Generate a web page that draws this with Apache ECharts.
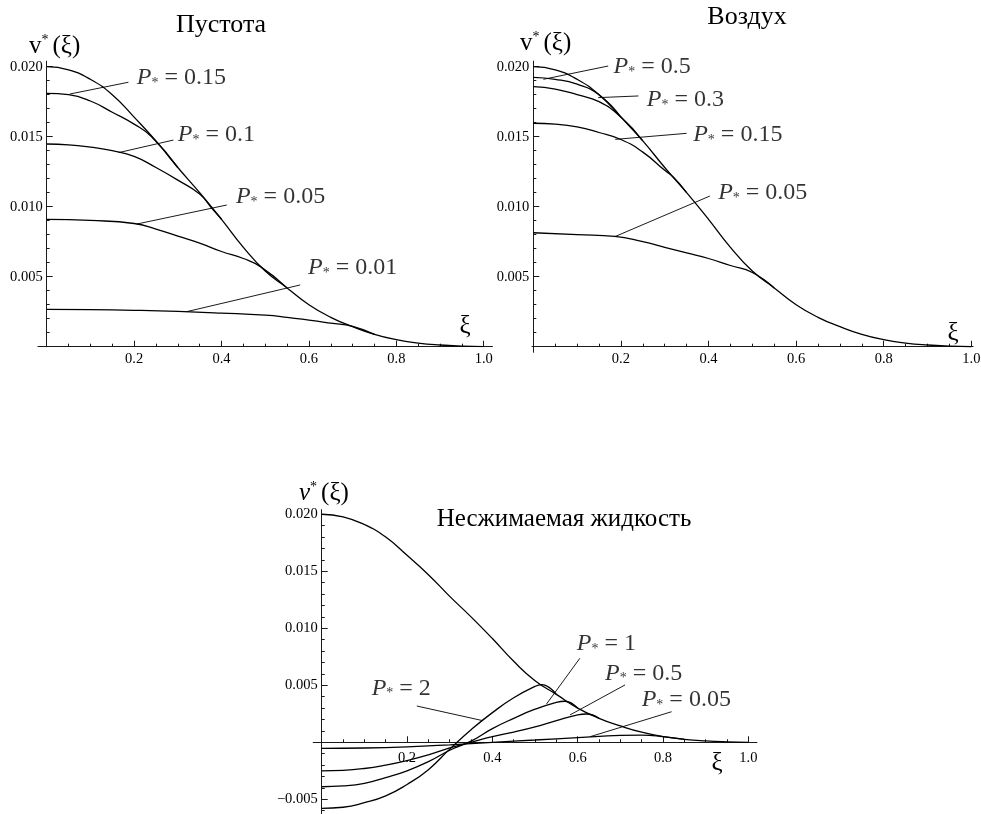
<!DOCTYPE html>
<html><head><meta charset="utf-8">
<script src="https://cdn.jsdelivr.net/npm/echarts@6/dist/echarts.min.js"></script>
<style>html,body{margin:0;padding:0;background:#fff}#c{width:981px;height:814px}</style>
</head><body><div id="c"></div>
<script>
// ---- data (ξ, v*) ----
const envelope = [[0,0.0200],[0.05,0.01978],[0.1,0.0191],[0.15,0.0180],[0.2,0.0164],[0.25,0.0147],[0.3,0.0128],[0.35,0.0110],[0.4,0.0091],[0.45,0.0071],[0.5,0.0054],[0.55,0.0042],[0.6,0.0030],[0.65,0.0021],[0.7,0.00143],[0.75,0.00088],[0.8,0.0005],[0.85,0.00026],[0.9,0.00012],[0.95,0.00004],[1.0,0]];

// Пустота
const void015 = [[0,0.0181],[0.05,0.0180],[0.1,0.01755],[0.15,0.01675],[0.2,0.0159],[0.24,0.0150],[0.3,0.0128]];
const void01  = [[0,0.01448],[0.05,0.01442],[0.1,0.01425],[0.15,0.0140],[0.2,0.0136],[0.25,0.0128],[0.3,0.0119],[0.35,0.0109],[0.375,0.0100],[0.4,0.0091]];
const void005 = [[0,0.0091],[0.1,0.00902],[0.2,0.0088],[0.25,0.0084],[0.3,0.0079],[0.35,0.0074],[0.4,0.0068],[0.45,0.0063],[0.49,0.0057],[0.55,0.0042]];
const void001 = [[0,0.00267],[0.1,0.00265],[0.2,0.0026],[0.3,0.00252],[0.4,0.0024],[0.5,0.00225],[0.55,0.0021],[0.6,0.0019],[0.65,0.00168],[0.7,0.00145],[0.75,0.00088]];
const voidLeaders = [[0.053,0.01805,0.187,0.01889],[0.164,0.01386,0.290,0.01476],[0.206,0.00876,0.412,0.01012],[0.32,0.0025,0.58,0.00441]];
const voidLabels  = [[0.206,0.01924,'0.15'],[0.300,0.01512,'0.1'],[0.433,0.01069,'0.05'],[0.598,0.00562,'0.01']];

// Воздух
const air05  = [[0,0.01924],[0.05,0.0191],[0.1,0.01875],[0.15,0.0180],[0.2,0.0164]];
const air03  = [[0,0.01857],[0.05,0.0184],[0.1,0.0180],[0.15,0.0175],[0.2,0.0164],[0.25,0.0147]];
const air015 = [[0,0.01596],[0.05,0.0159],[0.1,0.0157],[0.15,0.0153],[0.2,0.0148],[0.25,0.0139],[0.3,0.0126],[0.32,0.0121],[0.35,0.0110]];
const air005 = [[0,0.00814],[0.1,0.0080],[0.186,0.00788],[0.25,0.0075],[0.3,0.0071],[0.35,0.0067],[0.4,0.0063],[0.45,0.0058],[0.5,0.0053],[0.55,0.0042]];
const airLeaders = [[0.023,0.0191,0.171,0.02005],[0.148,0.01779,0.240,0.01791],[0.187,0.01481,0.350,0.01524],[0.186,0.00786,0.403,0.01076]];
const airLabels  = [[0.183,0.0200,'0.5'],[0.259,0.01762,'0.3'],[0.365,0.01512,'0.15'],[0.422,0.0110,'0.05']];

// Несжимаемая жидкость
const inc2   = [[0,-0.0058],[0.05,-0.0057],[0.1,-0.0053],[0.15,-0.0047],[0.2,-0.0037],[0.25,-0.0024],[0.3,-0.0006],[0.35,0.0011],[0.4,0.0026],[0.45,0.0039],[0.5,0.0049],[0.515,0.00505],[0.55,0.0042]];
const inc1   = [[0,-0.0039],[0.05,-0.00383],[0.1,-0.0036],[0.15,-0.0031],[0.2,-0.0025],[0.25,-0.0017],[0.3,-0.0007],[0.35,0.0001],[0.4,0.0012],[0.45,0.0021],[0.5,0.0029],[0.55,0.0035],[0.57,0.0036],[0.6,0.0030]];
const inc05  = [[0,-0.0025],[0.05,-0.00246],[0.1,-0.0023],[0.15,-0.0020],[0.2,-0.0016],[0.25,-0.0011],[0.3,-0.0005],[0.35,0.0000],[0.4,0.0005],[0.45,0.0009],[0.5,0.00135],[0.55,0.0019],[0.6,0.0024],[0.62,0.00248],[0.65,0.0021]];
const inc005 = [[0,-0.00053],[0.1,-0.0005],[0.2,-0.0004],[0.3,-0.00022],[0.4,0.0000],[0.5,0.0002],[0.6,0.0004],[0.7,0.0006],[0.75,0.00063],[0.8,0.0005],[0.85,0.00026]];
const incLeaders = [[0.605,0.00737,0.527,0.00336],[0.711,0.00503,0.582,0.0024],[0.820,0.00268,0.629,0.00049],[0.223,0.00318,0.377,0.0019]];
const incLabels  = [[0.598,0.00862,'1'],[0.664,0.00605,'0.5'],[0.750,0.00371,'0.05'],[0.117,0.00474,'2']];

// ticks
const xMajorTicks = [0.2,0.4,0.6,0.8,1.0];
const xMinorTicks = [0.05,0.1,0.15,0.25,0.3,0.35,0.45,0.5,0.55,0.65,0.7,0.75,0.85,0.9,0.95];
const yMajorTop = [0.005,0.010,0.015,0.020];
const yMinorTop = [0.001,0.002,0.003,0.004,0.006,0.007,0.008,0.009,0.011,0.012,0.013,0.014,0.016,0.017,0.018,0.019];
const yMajorInc = [-0.005,0.005,0.010,0.015,0.020];
const yMinorInc = [-0.006,-0.004,-0.003,-0.002,-0.001,0.001,0.002,0.003,0.004,0.006,0.007,0.008,0.009,0.011,0.012,0.013,0.014,0.016,0.017,0.018,0.019];

const titles = ['Пустота','Воздух','Несжимаемая жидкость'];

// ---- layout ----
const SERIF = 'Liberation Serif';
const AX = '#1a1a1a';
const grids = [
  {left:37.96, top:61.1, width:454.5, height:285.6, x:[-0.02,1.02], y:[0,0.0204]},
  {left:532.0, top:61.1, width:441.1, height:291.2, x:[-0.003,1.004], y:[-0.0004,0.0204]},
  {left:313.2, top:509.7, width:443.7, height:304.4, x:[-0.02,1.02], y:[-0.0063,0.0204]}
];
const chart = echarts.init(document.getElementById('c'), null, {renderer:'canvas'});

function xPair(gi, margin) {
  const g = grids[gi];
  const off = -((0 - g.y[0]) / (g.y[1] - g.y[0])) * g.height;
  const base = {type:'value', gridIndex:gi, min:g.x[0], max:g.x[1], position:'bottom', offset:off, splitLine:{show:false}};
  return [
    Object.assign({}, base, {
     axisLine:{onZero:false, lineStyle:{color:AX, width:1}},
     axisTick:{inside:true, length:6, customValues:xMajorTicks, lineStyle:{color:AX, width:1}},
     axisLabel:{customValues:xMajorTicks, formatter:v=>v.toFixed(1), margin, fontFamily:SERIF, fontSize:14.5, color:'#000'}}),
    Object.assign({}, base, {
     axisLine:{show:false, onZero:false},
     axisTick:{inside:true, length:3, customValues:xMinorTicks, lineStyle:{color:AX, width:1}},
     axisLabel:{show:false}})
  ];
}
function yPair(gi, major, minor) {
  const g = grids[gi];
  const off = -((0 - g.x[0]) / (g.x[1] - g.x[0])) * g.width;
  const fmt = v => (v < 0 ? '−' : '') + Math.abs(v).toFixed(3);
  const base = {type:'value', gridIndex:gi, min:g.y[0], max:g.y[1], position:'left', offset:off, splitLine:{show:false}};
  return [
    Object.assign({}, base, {
     axisLine:{onZero:false, lineStyle:{color:AX, width:1}},
     axisTick:{inside:true, length:6, customValues:major, lineStyle:{color:AX, width:1}},
     axisLabel:{customValues:major, formatter:fmt, margin:4, fontFamily:SERIF, fontSize:14.5, color:'#000'}}),
    Object.assign({}, base, {
     axisLine:{show:false, onZero:false},
     axisTick:{inside:true, length:3, customValues:minor, lineStyle:{color:AX, width:1}},
     axisLabel:{show:false}})
  ];
}

function curve(data, ai) {
  return {type:'line', xAxisIndex:ai, yAxisIndex:ai, data, smooth:0.5,
          showSymbol:false, symbol:'none', silent:true, z:3,
          lineStyle:{color:'#000', width:1.3}};
}
function leaders(list, ai) {
  return list.map(l => ({type:'line', xAxisIndex:ai, yAxisIndex:ai,
          data:[[l[0],l[1]],[l[2],l[3]]], showSymbol:false, symbol:'none', silent:true, z:4,
          lineStyle:{color:'#000', width:0.9}}));
}
function labels(list, ai) {
  return {type:'scatter', xAxisIndex:ai, yAxisIndex:ai, data:list, symbolSize:0, silent:true, z:5,
    label:{show:true, position:'right', distance:0, offset:[0,5.5],
      formatter: p => '{p|P}{s|*}{t| = ' + p.value[2] + '}',
      rich:{
        p:{fontFamily:SERIF, fontStyle:'italic', fontSize:24, color:'#000', padding:[0,0,11,0]},
        s:{fontFamily:SERIF, fontSize:14, color:'#000'},
        t:{fontFamily:SERIF, fontSize:24, color:'#000', padding:[0,0,11,0]}
      }}};
}
function yName(x, y, italic) {
  return {type:'text', x, y, silent:true,
    style:{text:'{v|v}{a|*}{t|(ξ)}', align:'left', verticalAlign:'middle',
      rich:{
        v:{fontFamily:SERIF, fontSize:25, fontStyle: italic ? 'italic' : 'normal', fill:'#000', color:'#000'},
        a:{fontFamily:SERIF, fontSize:14, verticalAlign:'top', fill:'#000', color:'#000'},
        t:{fontFamily:SERIF, fontSize:25, fill:'#000', color:'#000', padding:[0,0,0,4]}
      }}};
}
function txt(text, x, y, size) {
  return {type:'text', x, y, silent:true,
    style:{text, fontFamily:SERIF, fontSize:size, fill:'#000', align:'center', verticalAlign:'middle'}};
}

const option = {
  animation:false,
  backgroundColor:'#fff',
  grid: grids.map(g => ({left:g.left, top:g.top, width:g.width, height:g.height, containLabel:false, outerBoundsMode:'none'})),
  xAxis:[...xPair(0,5), ...xPair(1,5), ...xPair(2,8)],
  yAxis:[...yPair(0,yMajorTop,yMinorTop), ...yPair(1,yMajorTop,yMinorTop), ...yPair(2,yMajorInc,yMinorInc)],
  series:[
    curve(envelope,0), curve(void015,0), curve(void01,0), curve(void005,0), curve(void001,0),
    ...leaders(voidLeaders,0), labels(voidLabels,0),
    curve(envelope,2), curve(air05,2), curve(air03,2), curve(air015,2), curve(air005,2),
    ...leaders(airLeaders,2), labels(airLabels,2),
    curve(envelope,4), curve(inc2,4), curve(inc1,4), curve(inc05,4), curve(inc005,4),
    ...leaders(incLeaders,4), labels(incLabels,4)
  ],
  graphic:[
    txt(titles[0], 221, 25, 26),
    txt(titles[1], 747, 17, 26),
    txt(titles[2], 564, 519, 25),
    yName(29, 46, false),
    yName(520, 43, false),
    yName(299, 493, true),
    txt('ξ', 465, 326, 25),
    txt('ξ', 953, 333, 25),
    txt('ξ', 717, 763, 25)
  ]
};
chart.setOption(option);
</script>
</body></html>
